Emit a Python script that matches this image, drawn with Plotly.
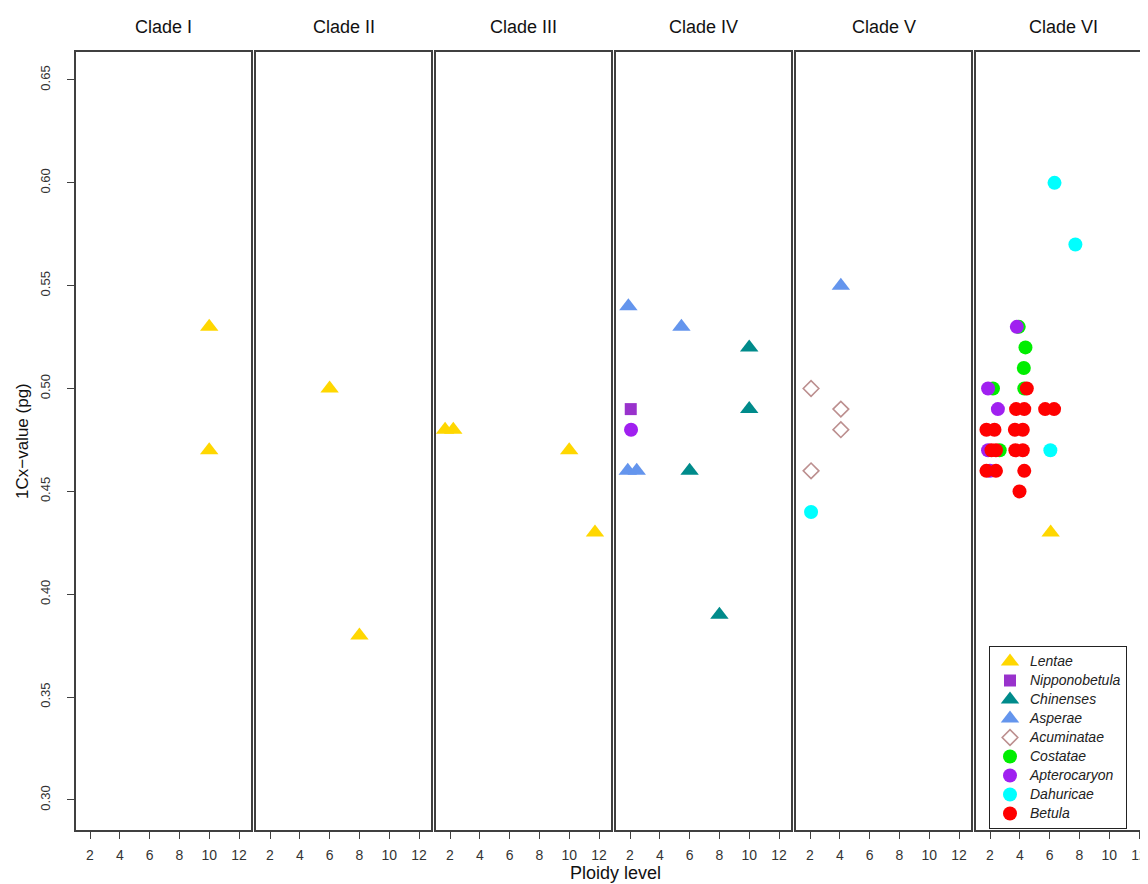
import plotly.graph_objects as go

# ---------------- data ----------------
clades = ["Clade I", "Clade II", "Clade III", "Clade IV", "Clade V", "Clade VI"]

species_order = ["Lentae", "Nipponobetula", "Chinenses", "Asperae", "Acuminatae",
                 "Costatae", "Apterocaryon", "Dahuricae", "Betula"]
species_colors = ["#FFD700", "#9932CC", "#008B8B", "#6495ED", "#BC8F8F",
                  "#00EE00", "#A020F0", "#00FFFF", "#FF0000"]
species_symbols = ["triangle-up", "square", "triangle-up", "triangle-up", "diamond-open",
                   "circle", "circle", "circle", "circle"]
species_sizes = [16, 12, 16, 16, 12, 14, 14, 14, 14]

pt_clade = (["Clade I"] * 2 + ["Clade II"] * 2 + ["Clade III"] * 4
            + ["Clade IV"] * 10 + ["Clade V"] * 6 + ["Clade VI"] * 32)
pt_species = (
    ["Lentae", "Lentae"]
    + ["Lentae", "Lentae"]
    + ["Lentae", "Lentae", "Lentae", "Lentae"]
    + ["Asperae", "Asperae", "Asperae", "Asperae",
       "Chinenses", "Chinenses", "Chinenses", "Chinenses",
       "Nipponobetula", "Apterocaryon"]
    + ["Asperae", "Acuminatae", "Acuminatae", "Acuminatae", "Acuminatae", "Dahuricae"]
    + ["Costatae"] * 6 + ["Apterocaryon"] * 5 + ["Dahuricae"] * 3 + ["Betula"] * 17 + ["Lentae"]
)
pt_ploidy = (
    [10, 10]
    + [6, 8]
    + [1.67, 2.22, 10, 11.73]
    + [1.89, 5.45, 1.85, 2.45, 10.0, 10.0, 6.0, 8.0, 2.05, 2.07]
    + [4.07, 2.07, 4.07, 4.07, 2.07, 2.07]
    + [3.93, 4.38, 4.27, 2.2, 4.3, 2.65]
    + [3.8, 1.87, 2.53, 1.87, 2.0]
    + [6.33, 7.73, 6.05]
    + [4.47, 3.75, 4.3, 5.7, 6.3, 1.76, 2.3, 3.67, 4.2, 2.1, 2.4, 3.7, 4.2, 1.76, 2.4, 4.3, 3.98]
    + [6.07]
)
pt_cvalue = (
    [0.53, 0.47]
    + [0.50, 0.38]
    + [0.48, 0.48, 0.47, 0.43]
    + [0.54, 0.53, 0.46, 0.46, 0.52, 0.49, 0.46, 0.39, 0.49, 0.48]
    + [0.55, 0.50, 0.49, 0.48, 0.46, 0.44]
    + [0.53, 0.52, 0.51, 0.50, 0.50, 0.47]
    + [0.53, 0.50, 0.49, 0.47, 0.46]
    + [0.60, 0.57, 0.47]
    + [0.50, 0.49, 0.49, 0.49, 0.49, 0.48, 0.48, 0.48, 0.48, 0.47, 0.47, 0.47, 0.47, 0.46, 0.46, 0.46, 0.45]
    + [0.43]
)

x_ticks = [2, 4, 6, 8, 10, 12]
y_ticks = [0.30, 0.35, 0.40, 0.45, 0.50, 0.55, 0.60, 0.65]
y_tick_text = ["0.30", "0.35", "0.40", "0.45", "0.50", "0.55", "0.60", "0.65"]

x_label = "Ploidy level"
y_label = "1Cx\u2212value (pg)"

# ---------------- layout geometry ----------------
# the page adds an 8px body margin; positions below are in page pixels
OFF = 8
W, H = 1148 - OFF, 884 - OFF
ML = 75 - OFF
MR = 0
MT = 52 - OFF
MB = H - (830 - OFF)
PW = W - ML - MR
PH = H - MT - MB
panel_left_px = [76, 256, 436, 616, 796, 976]
panel_w = 175
px_per_unit = 14.9
x_min = 1.06
y_range = [0.2854, 0.6636]


def px_x(px):
    return (px - OFF - ML) / PW


def px_y(py):
    return 1 - (py - OFF - MT) / PH


FONT = "Liberation Sans, Arial, sans-serif"
LINE_COLOR = "#404040"

fig = go.Figure()

for si, sp in enumerate(species_order):
    first = True
    for ci, cl in enumerate(clades):
        xs = [p for p, c, s in zip(pt_ploidy, pt_clade, pt_species) if c == cl and s == sp]
        ys = [v for v, c, s in zip(pt_cvalue, pt_clade, pt_species) if c == cl and s == sp]
        if not xs:
            continue
        ax = "" if ci == 0 else str(ci + 1)
        is_open = species_symbols[si].endswith("open")
        fig.add_trace(go.Scatter(
            x=xs, y=ys, mode="markers",
            xaxis="x" + ax, yaxis="y" + ax,
            name='<span style="font-size:14px"><i>' + sp + "</i></span>",
            legendgroup=sp, showlegend=first, legendrank=si + 1,
            marker=dict(symbol=species_symbols[si], color=species_colors[si],
                        size=species_sizes[si],
                        line=dict(width=1.6 if is_open else 0, color=species_colors[si])),
            cliponaxis=False,
        ))
        first = False

layout = dict(
    width=W, height=H,
    margin=dict(l=ML, r=MR, t=MT, b=MB, pad=0),
    paper_bgcolor="white", plot_bgcolor="white",
    font=dict(family=FONT, size=13, color="#333333"),
    showlegend=True,
    legend=dict(
        x=px_x(989), y=px_y(829), xanchor="left", yanchor="bottom",
        bgcolor="white", bordercolor="#222222", borderwidth=1,
        font=dict(family=FONT, size=12, color="#222222"),
        tracegroupgap=0, itemwidth=30,
    ),
)

annotations = []
for ci, cl in enumerate(clades):
    L = panel_left_px[ci]
    R = min(L + panel_w, 1148)
    d0 = px_x(L)
    d1 = min(1.0, px_x(R))
    ax = "" if ci == 0 else str(ci + 1)
    xr = [x_min, x_min + (R - L) / px_per_unit]
    layout["xaxis" + ax] = dict(
        domain=[d0, d1], range=xr, anchor="y" + ax,
        tickmode="array", tickvals=x_ticks, ticktext=[str(t) for t in x_ticks],
        ticks="outside", ticklen=7, tickwidth=1, tickcolor=LINE_COLOR,
        showline=True, mirror=True, linecolor=LINE_COLOR, linewidth=1.5,
        showgrid=False, zeroline=False,
        tickfont=dict(family=FONT, size=14, color="#333333"),
        ticklabelstandoff=4, ticklabeloverflow="allow",
    )
    yax = dict(
        domain=[0, 1], range=y_range, anchor="x" + ax,
        showline=True, mirror=(ci < 5), linecolor=LINE_COLOR, linewidth=1.5,
        showgrid=False, zeroline=False,
    )
    if ci == 0:
        yax.update(tickmode="array", tickvals=y_ticks, ticktext=y_tick_text,
                   ticks="outside", ticklen=7, tickwidth=1, tickcolor=LINE_COLOR,
                   tickangle=-90, ticklabelstandoff=12,
                   tickfont=dict(family=FONT, size=13, color="#333333"))
    else:
        yax.update(showticklabels=False, ticks="")
    layout["yaxis" + ax] = yax

    annotations.append(dict(
        text=cl, xref="paper", yref="paper",
        x=px_x(L + panel_w / 2), y=px_y(27),
        xanchor="center", yanchor="middle", showarrow=False,
        font=dict(family=FONT, size=18, color="#111111"),
    ))

annotations.append(dict(
    text=x_label, xref="paper", yref="paper",
    x=px_x(615), y=px_y(873),
    xanchor="center", yanchor="middle", showarrow=False,
    font=dict(family=FONT, size=18, color="#111111"),
))
annotations.append(dict(
    text=y_label, xref="paper", yref="paper",
    x=px_x(22), y=0.5, textangle=-90,
    xanchor="center", yanchor="middle", showarrow=False,
    font=dict(family=FONT, size=17, color="#111111"),
))
layout["annotations"] = annotations

fig.update_layout(**layout)
fig.write_html("out.html")
